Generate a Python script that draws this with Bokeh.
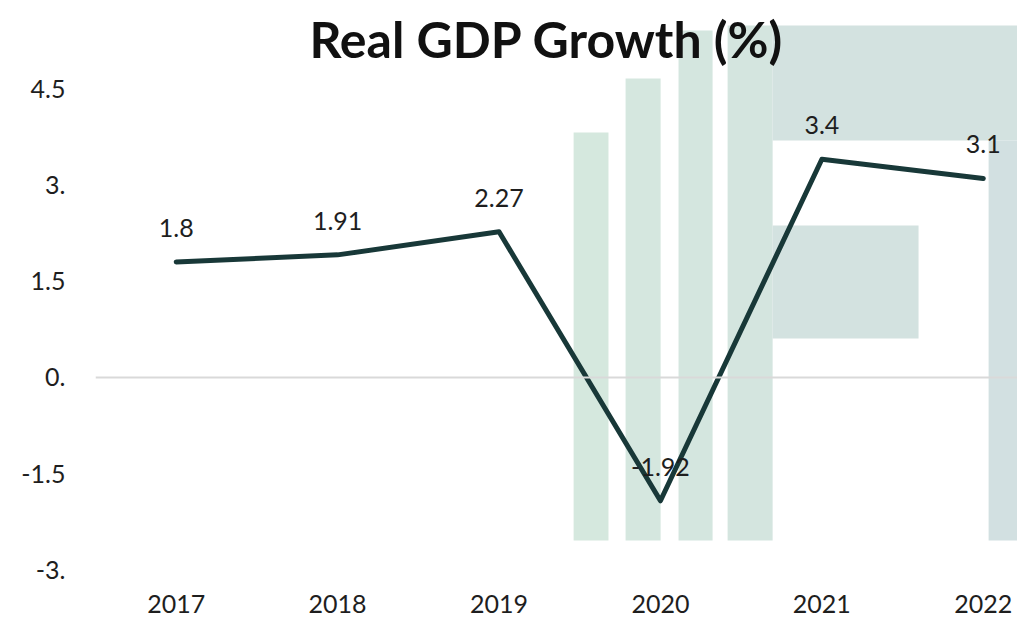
from bokeh.plotting import figure
from bokeh.models import ColumnDataSource, Range1d, FixedTicker, Span, Label, LabelSet
from bokeh.core.properties import value
from bokeh.embed import file_html
from bokeh.resources import INLINE

# ---- data ----
years = ["2017", "2018", "2019", "2020", "2021", "2022"]
growth = [1.8, 1.91, 2.27, -1.92, 3.4, 3.1]
growth_labels = ["1.8", "1.91", "2.27", "-1.92", "3.4", "3.1"]
y_ticks = [-3, -1.5, 0, 1.5, 3, 4.5]
y_tick_labels = ["-3.", "-1.5", "0.", "1.5", "3.", "4.5"]

# ---- decorative watermark (background logo), in data units ----
wm_left = [2.462, 2.784, 3.112, 3.416, 3.695, 3.695, 5.033]
wm_right = [2.678, 3.001, 3.323, 3.695, 5.3, 4.599, 5.3]
wm_bottom = [-2.539, -2.539, -2.539, -2.539, 3.692, 0.607, -2.539]
wm_top = [3.816, 4.657, 5.405, 5.483, 5.483, 2.368, 3.692]
wm_color = ["#d5e8de", "#d5e7df", "#d4e6df", "#d4e5df", "#d3e2e0", "#d3e2e0", "#d2e0e1"]

FONT = "Lato"

xs = list(range(len(years)))
src = ColumnDataSource(dict(x=xs, y=growth, lab=growth_labels))

p = figure(frame_width=922, frame_height=580, output_backend="svg", toolbar_location=None,
           x_range=Range1d(-0.5, 5.212), y_range=Range1d(-3.162, 5.872),
           min_border_left=95, min_border_right=0, min_border_top=0, min_border_bottom=41)
p.outline_line_color = None
p.background_fill_color = "white"
p.xgrid.visible = False
p.ygrid.visible = False

p.quad(left=wm_left, right=wm_right, bottom=wm_bottom, top=wm_top,
       fill_color=wm_color, line_color=None)

p.add_layout(Span(location=0, dimension="width", line_color="#d9d9d9", line_width=2))

p.line("x", "y", source=src, line_color="#183838", line_width=5, line_cap="round", line_join="round")

p.add_layout(LabelSet(x="x", y="y", text="lab", source=src, y_offset=25,
                      text_align="center", text_baseline="bottom",
                      text_font=value(FONT), text_font_size=value("25px"), text_color=value("#1e1e1e")))

p.add_layout(Label(x=2.294, y=5.27, text="Real GDP Growth (%)", text_align="center",
                   text_baseline="middle", text_font=FONT, text_font_style="bold",
                   text_font_size="50px", text_color="#111111"))

# axes
p.xaxis.ticker = FixedTicker(ticks=xs)
p.xaxis.major_label_overrides = {i: y for i, y in enumerate(years)}
p.yaxis.ticker = FixedTicker(ticks=y_ticks)
p.yaxis.major_label_overrides = {t: l for t, l in zip(y_ticks, y_tick_labels)}
for ax in (p.xaxis, p.yaxis):
    ax.axis_line_color = None
    ax.major_tick_line_color = None
    ax.minor_tick_line_color = None
    ax.major_label_text_font = FONT
    ax.major_label_text_font_size = "25px"
    ax.major_label_text_color = "#1e1e1e"
p.xaxis.major_label_standoff = 8
p.yaxis.major_label_standoff = 24

open("out.html", "w").write(file_html(p, INLINE))
